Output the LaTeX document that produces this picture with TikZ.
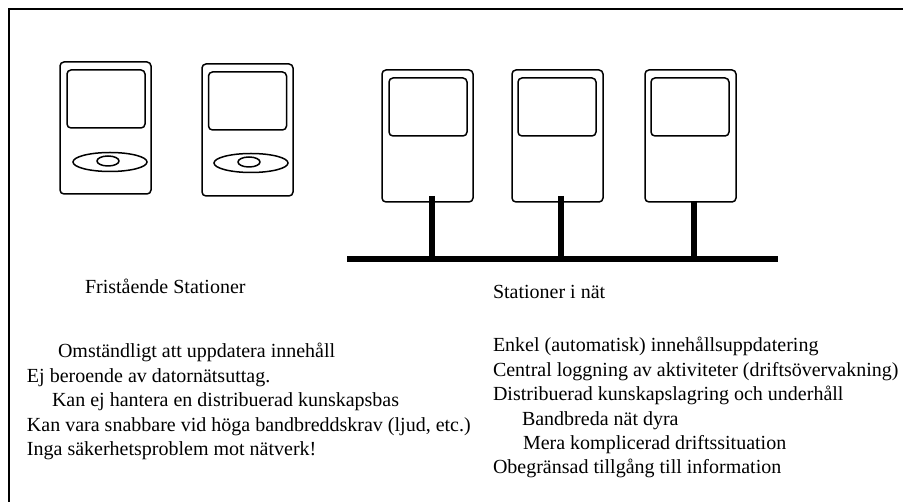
\documentclass[tikz,border=0pt]{standalone}
\usepackage{fontspec}
\setmainfont{Liberation Serif}
\usetikzlibrary{shapes.geometric}
\tikzset{
  x=1pt,y=-1pt,
  box/.style={draw=black,line width=1.5pt,rounded corners=4pt,inner sep=0pt,outer sep=0pt},
  station/.style={box,minimum width=91pt,minimum height=132pt},
  screen/.style={box,minimum width=78pt,minimum height=58pt},
  disc/.style={draw=black,line width=1.5pt,ellipse,inner sep=0pt,outer sep=0pt,minimum width=74pt,minimum height=19pt},
  hole/.style={draw=black,line width=1.5pt,ellipse,inner sep=0pt,outer sep=0pt,minimum width=22pt,minimum height=10pt},
  wire/.style={draw=black,line width=6pt},
  lbl/.style={anchor=base west,inner sep=0pt,outer sep=0pt,font=\fontsize{20pt}{22pt}\selectfont},
}
\begin{document}
\begin{tikzpicture}
\useasboundingbox (0,0) rectangle (903,502);
\draw[black,line width=2.2pt] (903,9) coordinate (fr) -- (9,9) -- (9,502);
% free-standing stations
\node[station] (s1) at (105.5,128) {};
\node[screen] (s1s) at (106,99) {};
\node[disc] (s1d) at (110,162) {};
\node[hole] (s1h) at (108,161) {};
\node[station] (s2) at (247.5,130) {};
\node[screen] (s2s) at (247.5,101) {};
\node[disc] (s2d) at (251,163) {};
\node[hole] (s2h) at (249,162) {};
% networked stations
\node[station] (s3) at (427.5,136) {};
\node[screen] (s3s) at (428,107) {};
\node[station] (s4) at (557.5,136) {};
\node[screen] (s4s) at (557,107) {};
\node[station] (s5) at (690.5,136) {};
\node[screen] (s5s) at (690,107) {};
% network
\coordinate (busL) at (347,259);
\coordinate (busR) at (778,259);
\coordinate (t3) at (432,196);
\coordinate (b3) at (432,261);
\coordinate (t4) at (561,196);
\coordinate (b4) at (561,261);
\coordinate (t5) at (694,201);
\coordinate (b5) at (694,261);
\draw[wire] (busL) -- (busR);
\draw[wire] (t3) -- (b3);
\draw[wire] (t4) -- (b4);
\draw[wire] (t5) -- (b5);
% texts
\node[lbl] (a0) at (85,294) {Fristående Stationer};
\node[lbl] (a1) at (58,358) {Omständligt att uppdatera innehåll};
\node[lbl] (a2) at (27,383) {Ej beroende av datornätsuttag.};
\node[lbl] (a3) at (52,407) {Kan ej hantera en distribuerad kunskapsbas};
\node[lbl] (a4) at (27,432) {Kan vara snabbare vid höga bandbreddskrav (ljud, etc.)};
\node[lbl] (a5) at (27,456) {Inga säkerhetsproblem mot nätverk!};
\node[lbl] (b0) at (493,299) {Stationer i nät};
\node[lbl] (c1) at (493,352) {Enkel (automatisk) innehållsuppdatering};
\node[lbl] (c2) at (493,377) {Central loggning av aktiviteter (driftsövervakning)};
\node[lbl] (c3) at (493,401) {Distribuerad kunskapslagring och underhåll};
\node[lbl] (c4) at (522,426) {Bandbreda nät dyra};
\node[lbl] (c5) at (523,450) {Mera komplicerad driftssituation};
\node[lbl] (c6) at (493,474) {Obegränsad tillgång till information};
\end{tikzpicture}
\end{document}
